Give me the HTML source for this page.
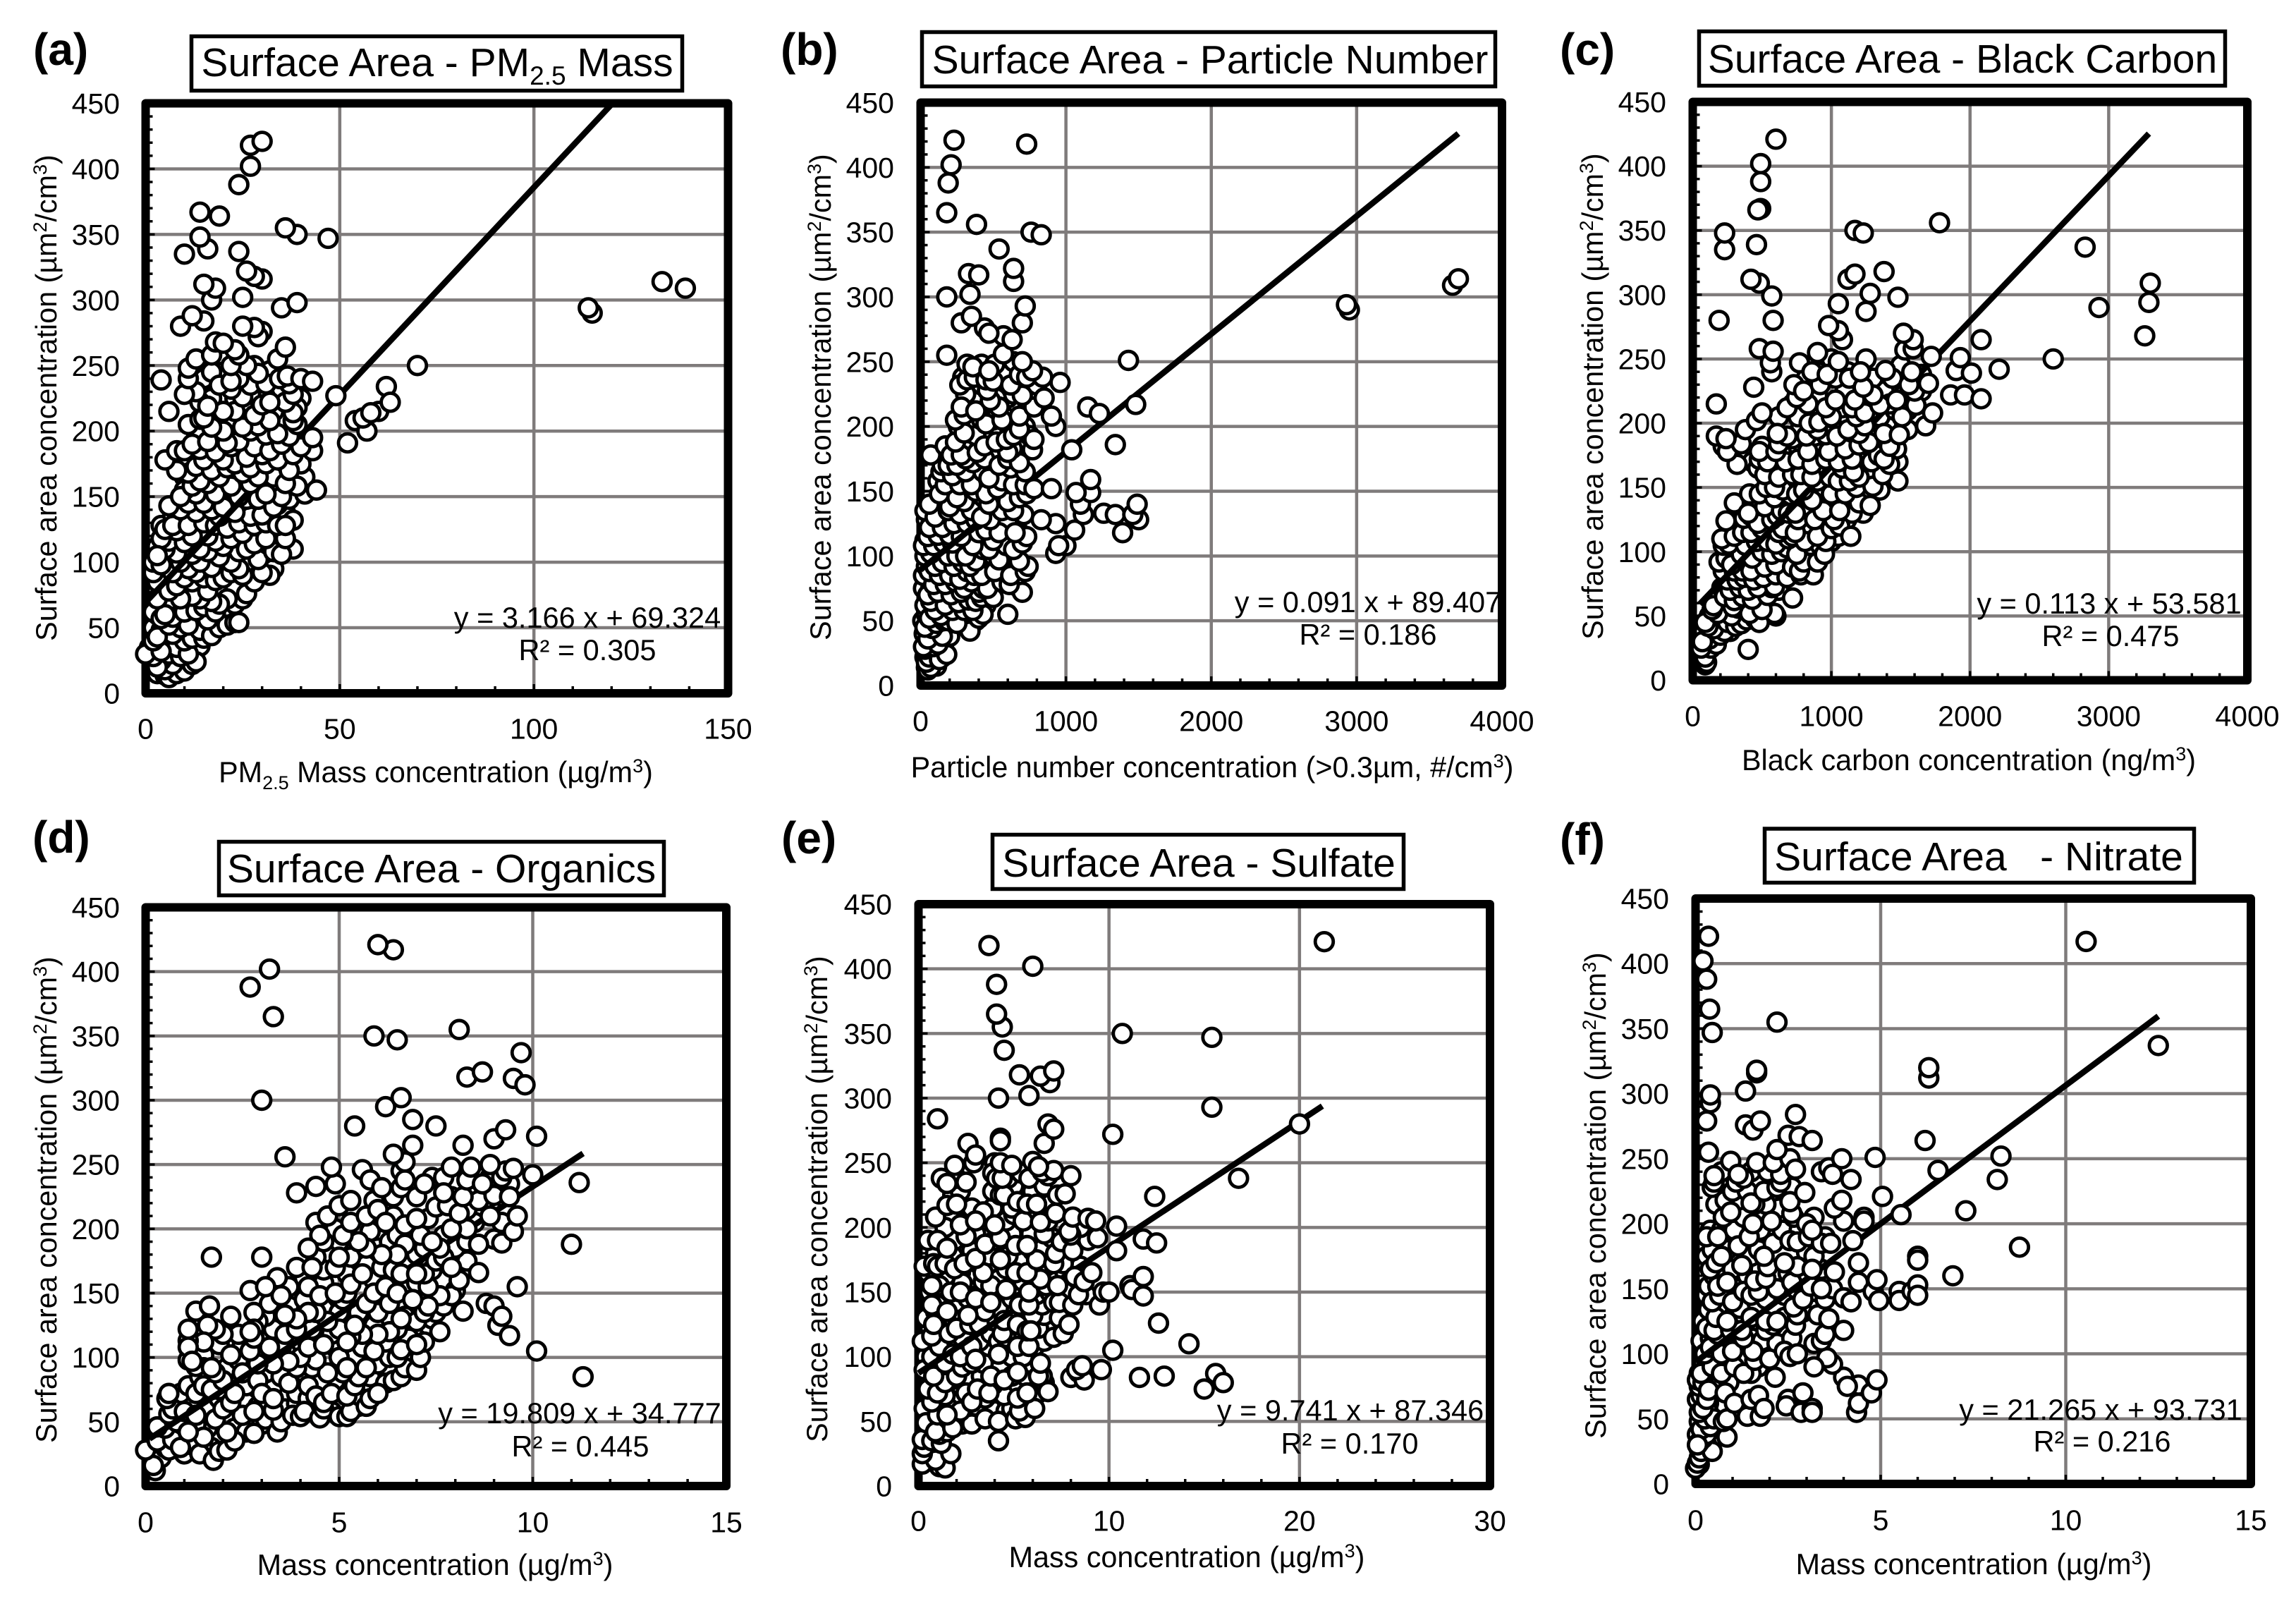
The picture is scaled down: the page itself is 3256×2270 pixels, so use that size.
<!DOCTYPE html>
<html>
<head>
<meta charset="utf-8">
<title>Surface area correlations</title>
<style>
html,body{margin:0;padding:0;background:#fff;}
svg{display:block;}
text{font-family:"Liberation Sans",Arial,sans-serif;fill:#000;}
.tt{font-size:57px;}
.ax{font-size:41.3px;}
.eq{font-size:41.5px;text-anchor:middle;}
.pl{font-size:64px;font-weight:bold;}
.box{fill:#fff;stroke:#000;stroke-width:5.5;}
</style>
</head>
<body>
<svg id="figure" xmlns="http://www.w3.org/2000/svg" width="3256" height="2270" viewBox="0 0 3256 2270">
<rect width="3256" height="2270" fill="#fff"/>

<g id="panel-a">
<text class="pl" x="47" y="92">(a)</text>
<rect class="box" x="271.5" y="51.5" width="696" height="77"/>
<text class="tt" x="620" y="108" text-anchor="middle">Surface Area - PM<tspan dy="12" font-size="37">2.5</tspan><tspan dy="-12"> Mass</tspan></text>
<text class="ax" x="80" y="564" text-anchor="middle" transform="rotate(-90 80 564)">Surface area concentration (µm<tspan dy="-14" font-size="27">2</tspan><tspan dy="14">/cm</tspan><tspan dy="-14" font-size="27">3</tspan><tspan dy="14">)</tspan></text>
<text class="ax" x="618" y="1109" text-anchor="middle">PM<tspan dy="10" font-size="27">2.5</tspan><tspan dy="-10"> Mass concentration (µg/m</tspan><tspan dy="-14" font-size="27">3</tspan><tspan dy="14">)</tspan></text>
<g id="marks-a"></g>
<text class="eq" x="833" y="890">y = 3.166 x + 69.324</text>
<text class="eq" x="833" y="936">R² = 0.305</text>
</g>

<g id="panel-b">
<text class="pl" x="1107" y="92">(b)</text>
<rect class="box" x="1307.5" y="45.5" width="813" height="77"/>
<text class="tt" x="1716" y="104" text-anchor="middle">Surface Area - Particle Number</text>
<text class="ax" x="1178" y="563" text-anchor="middle" transform="rotate(-90 1178 563)">Surface area concentration (µm<tspan dy="-14" font-size="27">2</tspan><tspan dy="14">/cm</tspan><tspan dy="-14" font-size="27">3</tspan><tspan dy="14">)</tspan></text>
<text class="ax" x="1719" y="1102" text-anchor="middle">Particle number concentration (&gt;0.3µm, #/cm<tspan dy="-14" font-size="27">3</tspan><tspan dy="14">)</tspan></text>
<g id="marks-b"></g>
<text class="eq" x="1940" y="868">y = 0.091 x + 89.407</text>
<text class="eq" x="1940" y="914">R² = 0.186</text>
</g>

<g id="panel-c">
<text class="pl" x="2212" y="92">(c)</text>
<rect class="box" x="2409.5" y="44.5" width="746" height="77"/>
<text class="tt" x="2783" y="103" text-anchor="middle">Surface Area - Black Carbon</text>
<text class="ax" x="2273" y="562" text-anchor="middle" transform="rotate(-90 2273 562)">Surface area concentration (µm<tspan dy="-14" font-size="27">2</tspan><tspan dy="14">/cm</tspan><tspan dy="-14" font-size="27">3</tspan><tspan dy="14">)</tspan></text>
<text class="ax" x="2792" y="1092" text-anchor="middle">Black carbon concentration (ng/m<tspan dy="-14" font-size="27">3</tspan><tspan dy="14">)</tspan></text>
<g id="marks-c"></g>
<text class="eq" x="2991" y="870">y = 0.113 x + 53.581</text>
<text class="eq" x="2993" y="916">R² = 0.475</text>
</g>

<g id="panel-d">
<text class="pl" x="46" y="1209">(d)</text>
<rect class="box" x="310.5" y="1193.5" width="631" height="76"/>
<text class="tt" x="626" y="1251" text-anchor="middle">Surface Area - Organics</text>
<text class="ax" x="80" y="1701" text-anchor="middle" transform="rotate(-90 80 1701)">Surface area concentration (µm<tspan dy="-14" font-size="27">2</tspan><tspan dy="14">/cm</tspan><tspan dy="-14" font-size="27">3</tspan><tspan dy="14">)</tspan></text>
<text class="ax" x="617" y="2233" text-anchor="middle">Mass concentration (µg/m<tspan dy="-14" font-size="27">3</tspan><tspan dy="14">)</tspan></text>
<g id="marks-d"></g>
<text class="eq" x="822" y="2018">y = 19.809 x + 34.777</text>
<text class="eq" x="823" y="2065">R² = 0.445</text>
</g>

<g id="panel-e">
<text class="pl" x="1108" y="1210">(e)</text>
<rect class="box" x="1407.5" y="1183.5" width="583" height="77"/>
<text class="tt" x="1700" y="1243" text-anchor="middle">Surface Area - Sulfate</text>
<text class="ax" x="1173" y="1700" text-anchor="middle" transform="rotate(-90 1173 1700)">Surface area concentration (µm<tspan dy="-14" font-size="27">2</tspan><tspan dy="14">/cm</tspan><tspan dy="-14" font-size="27">3</tspan><tspan dy="14">)</tspan></text>
<text class="ax" x="1683" y="2222" text-anchor="middle">Mass concentration (µg/m<tspan dy="-14" font-size="27">3</tspan><tspan dy="14">)</tspan></text>
<g id="marks-e"></g>
<text class="eq" x="1915" y="2014">y = 9.741 x + 87.346</text>
<text class="eq" x="1914" y="2061">R² = 0.170</text>
</g>

<g id="panel-f">
<text class="pl" x="2212" y="1212">(f)</text>
<rect class="box" x="2502.5" y="1175" width="609" height="76.5"/>
<text class="tt" x="2806" y="1234" text-anchor="middle" xml:space="preserve" style="white-space:pre">Surface Area   - Nitrate</text>
<text class="ax" x="2277" y="1695" text-anchor="middle" transform="rotate(-90 2277 1695)">Surface area concentration (µm<tspan dy="-14" font-size="27">2</tspan><tspan dy="14">/cm</tspan><tspan dy="-14" font-size="27">3</tspan><tspan dy="14">)</tspan></text>
<text class="ax" x="2799" y="2232" text-anchor="middle">Mass concentration (µg/m<tspan dy="-14" font-size="27">3</tspan><tspan dy="14">)</tspan></text>
<g id="marks-f"></g>
<text class="eq" x="2979" y="2013">y = 21.265 x + 93.731</text>
<text class="eq" x="2981" y="2058">R² = 0.216</text>
</g>
</svg>

<script>
const yTickLabels = [0,50,100,150,200,250,300,350,400,450];
const xTicksA = [0,50,100,150];
const xTicksB = [0,1000,2000,3000,4000];
const xTicksC = [0,1000,2000,3000,4000];
const xTicksD = [0,5,10,15];
const xTicksE = [0,10,20,30];
const xTicksF = [0,5,10,15];

const fitA = {slope:3.166, intercept:69.324, from:0, to:120};
const fitB = {slope:0.091, intercept:89.407, from:0, to:3700};
const fitC = {slope:0.113, intercept:53.581, from:50, to:3290};
const fitD = {slope:19.809, intercept:34.777, from:0.1, to:11.3};
const fitE = {slope:9.741, intercept:87.346, from:0, to:21.2};
const fitF = {slope:21.265, intercept:93.731, from:0, to:12.5};

const pointsA = [[3,15],[5,14],[7,16],[9,20],[11,24],[5,23],[8,25],[3,33],[5,38],[7,38],[9,36],[12,34],[14,36],[1,35],[2,50],[4,48],[6,46],[8,54],[12,50],[14,54],[16,50],[18,54],[20,58],[22,62],[11,60],[8,65],[6,68],[3,60],[2,62],[18,72],[23,68],[25,72],[20,78],[23,82],[27,92],[31,100],[33,95],[32,90],[28,96],[26,100],[21,96],[18,100],[13,84],[9,80],[5,88],[3,85],[2,92],[2,100],[6,98],[8,112],[10,102],[11,108],[13,115],[15,100],[16,102],[21,106],[23,112],[30,108],[32,112],[34,118],[38,110],[35,120],[33,125],[30,124],[27,122],[20,122],[14,125],[10,122],[6,122],[4,128],[3,112],[9,132],[13,132],[17,134],[21,136],[25,136],[29,140],[32,136],[36,138],[34,144],[28,142],[22,144],[18,146],[14,150],[7,136],[8,145],[11,152],[15,154],[20,156],[23,154],[26,154],[30,156],[33,158],[38,160],[41,165],[37,162],[35,168],[31,168],[28,165],[24,162],[21,164],[18,170],[16,174],[12,176],[9,178],[10,165],[24,172],[28,178],[32,178],[36,176],[40,175],[36,184],[33,192],[29,192],[26,195],[23,196],[19,195],[15,197],[13,200],[30,200],[35,205],[36,210],[33,215],[29,215],[26,215],[22,207],[18,210],[17,225],[23,225],[27,228],[34,228],[40,225],[35,232],[25,245],[32,246],[28,250],[20,245],[15,240],[17,245],[14,222],[6,12],[8,15],[5,18],[10,17],[7,22],[4,25],[3,20],[12,22],[13,24],[6,30],[9,28],[8,35],[11,30],[2,28],[0,30],[4,32],[2,40],[10,40],[12,42],[15,42],[7,45],[3,43],[14,48],[17,44],[9,50],[19,50],[6,52],[11,52],[21,52],[23,54],[24,54],[16,56],[4,57],[7,58],[5,60],[10,62],[13,63],[15,66],[18,62],[21,72],[19,68],[17,70],[14,72],[12,74],[9,72],[3,72],[6,78],[16,78],[8,82],[12,85],[10,88],[15,88],[18,86],[20,88],[22,92],[13,92],[26,76],[28,85],[30,92],[25,90],[24,95],[17,96],[11,95],[7,92],[4,98],[9,100],[14,100],[22,100],[29,102],[19,104],[16,108],[12,106],[8,107],[5,110],[33,108],[35,106],[24,108],[20,112],[18,116],[14,110],[6,116],[4,118],[10,115],[3,105],[26,110],[28,114],[31,118],[36,118],[22,118],[25,122],[16,120],[12,120],[8,124],[5,125],[7,128],[11,128],[15,130],[18,128],[21,126],[24,130],[28,128],[31,130],[34,128],[38,132],[36,128],[19,135],[13,138],[27,135],[30,136],[23,138],[17,140],[9,140],[6,143],[11,145],[15,145],[20,142],[26,148],[29,148],[33,142],[37,148],[41,152],[44,155],[35,150],[31,152],[24,150],[18,152],[13,152],[10,155],[9,150],[12,158],[16,160],[22,158],[27,160],[33,165],[39,158],[36,160],[29,165],[25,168],[19,165],[14,162],[11,168],[8,170],[13,173],[17,170],[21,172],[23,175],[27,172],[31,175],[37,170],[34,178],[30,182],[26,180],[20,178],[15,178],[5,178],[8,185],[10,185],[14,186],[18,184],[22,188],[28,188],[32,185],[38,182],[43,185],[40,188],[35,190],[24,192],[21,191],[12,190],[16,192],[27,200],[31,197],[43,195],[37,196],[34,198],[20,200],[17,203],[11,205],[14,209],[29,204],[25,203],[39,205],[32,208],[38,208],[15,210],[28,212],[23,215],[20,215],[6,215],[39,218],[38,214],[16,219],[30,220],[36,222],[32,222],[25,226],[49,227],[38,228],[13,230],[10,228],[22,232],[19,235],[27,235],[31,236],[37,236],[4,239],[11,240],[24,240],[29,244],[34.5,240],[36.5,242],[40,240],[43,238],[22,238],[11,248],[26,250],[22,250],[34,255],[13,255],[17,258],[24,258],[23,262],[36,264],[18,268],[20,267],[30,276],[29,272],[28,279],[25,280],[9,280],[15,284],[12,288],[35,294],[39,298],[25,302],[17,300],[18,309],[15,312],[30,316],[28,318],[26,322],[24,337],[10,335],[16,339],[14,348],[47,347],[39,350],[36,355],[19,364],[14,367],[24,388],[27,402],[27,418],[30,421],[52,191],[54,208],[57,200],[56,210],[60,215],[58,214],[62,234],[63,222],[70,250],[115,290],[114,294],[133,314],[139,309]];

const pointsB = [[40,14],[30,22],[80,18],[110,15],[150,22],[100,25],[60,30],[140,30],[170,35],[40,40],[80,38],[15,50],[40,55],[75,52],[120,42],[170,45],[220,45],[270,52],[320,55],[290,48],[380,50],[450,62],[30,62],[100,65],[140,68],[200,62],[230,68],[300,68],[20,75],[70,75],[130,78],[190,75],[260,76],[330,76],[390,78],[500,78],[540,85],[580,90],[650,88],[690,88],[20,85],[100,85],[160,88],[240,88],[300,85],[400,88],[450,90],[490,95],[40,92],[80,92],[190,90],[270,92],[320,96],[410,98],[500,100],[560,100],[610,98],[660,96],[50,100],[130,100],[220,100],[290,105],[340,108],[400,108],[460,112],[560,112],[620,112],[680,118],[30,112],[110,110],[180,112],[250,112],[310,112],[370,115],[430,118],[520,125],[570,128],[620,130],[80,122],[180,122],[270,122],[350,122],[420,122],[500,135],[450,138],[40,128],[120,125],[220,132],[310,132],[390,135],[540,142],[600,132],[680,130],[100,140],[170,142],[250,138],[340,145],[420,145],[510,145],[650,150],[220,150],[300,152],[400,158],[470,152],[590,152],[690,155],[120,158],[190,158],[360,162],[520,175],[570,168],[650,162],[260,178],[330,182],[400,170],[490,178],[660,180],[700,185],[200,175],[290,188],[340,195],[480,195],[550,195],[610,200],[720,190],[260,200],[360,200],[500,205],[640,205],[720,200],[340,215],[410,218],[600,215],[660,218],[740,215],[390,225],[560,228],[600,222],[640,225],[310,225],[290,238],[420,232],[520,240],[580,240],[760,228],[800,232],[420,248],[510,248],[640,250],[50,12],[70,14],[40,18],[60,22],[130,20],[180,24],[30,28],[40,32],[90,30],[20,30],[120,32],[200,38],[25,40],[50,36],[150,38],[340,42],[80,44],[30,45],[110,48],[160,50],[190,50],[250,48],[60,52],[140,54],[400,52],[430,55],[600,55],[100,58],[220,58],[300,58],[360,58],[70,65],[170,62],[260,64],[330,66],[380,65],[420,68],[500,68],[50,70],[120,72],[210,70],[280,72],[400,72],[430,75],[660,77],[700,72],[90,78],[170,78],[240,80],[300,75],[350,80],[460,75],[560,80],[610,78],[60,88],[130,85],[200,85],[270,82],[320,88],[370,85],[420,85],[510,88],[620,85],[720,88],[740,92],[100,92],[150,95],[230,92],[290,95],[340,92],[380,96],[540,97],[680,96],[30,100],[70,102],[190,100],[250,100],[310,100],[430,105],[470,105],[590,108],[640,105],[930,102],[1000,108],[950,108],[20,108],[90,108],[160,110],[220,110],[360,108],[500,112],[700,110],[730,115],[50,115],[120,116],[200,116],[280,115],[400,118],[450,120],[600,125],[540,118],[650,118],[1060,120],[1390,118],[60,122],[150,122],[230,125],[320,125],[380,128],[480,128],[930,125],[830,128],[1500,128],[710,132],[1120,132],[1260,133],[1340,132],[1460,132],[30,135],[100,130],[190,135],[270,132],[350,135],[420,130],[560,135],[640,135],[60,140],[200,138],[300,142],[470,140],[600,142],[1100,140],[1490,140],[130,148],[250,145],[380,150],[450,148],[530,152],[680,145],[730,148],[1170,149],[1070,149],[170,155],[270,155],[350,155],[500,162],[560,158],[640,155],[720,155],[780,152],[900,152],[1170,159],[140,165],[220,162],[310,165],[430,165],[470,160],[620,168],[720,165],[150,170],[190,170],[250,170],[360,172],[440,175],[540,170],[600,175],[310,175],[680,172],[70,178],[170,185],[210,178],[280,178],[390,180],[630,183],[770,182],[1040,182],[600,180],[240,188],[380,193],[440,185],[520,188],[590,190],[640,193],[750,193],[780,190],[1340,186],[300,195],[680,198],[240,205],[420,205],[450,202],[300,209],[560,205],[680,208],[930,200],[900,208],[280,215],[380,212],[520,222],[540,215],[780,215],[1150,215],[1230,210],[480,220],[460,228],[700,224],[850,222],[1480,217],[270,232],[320,236],[370,238],[450,236],[500,235],[620,232],[680,240],[730,238],[840,238],[960,234],[320,248],[360,246],[470,243],[770,243],[700,250],[1430,251],[180,255],[570,256],[570,270],[630,267],[440,276],[470,272],[280,280],[700,280],[350,285],[720,293],[180,300],[340,302],[330,318],[400,317],[640,312],[640,322],[540,337],[760,350],[830,348],[385,356],[180,365],[190,388],[210,402],[730,418],[230,421],[2950,290],[2930,294],[3660,309],[3700,314]];

const pointsC = [[80,20],[110,26],[140,32],[180,38],[270,38],[210,45],[170,45],[120,50],[260,55],[370,50],[440,55],[470,58],[520,62],[320,65],[210,72],[260,62],[390,60],[480,65],[550,76],[620,70],[300,75],[420,72],[500,90],[460,90],[390,90],[330,92],[550,92],[650,90],[700,92],[750,85],[830,90],[880,100],[260,98],[310,100],[400,105],[470,100],[620,112],[680,118],[780,100],[850,105],[920,105],[1000,108],[340,110],[400,122],[520,122],[560,115],[800,118],[850,115],[960,120],[1050,112],[1110,125],[350,125],[440,135],[480,130],[620,135],[720,122],[780,130],[830,132],[900,138],[980,130],[1120,138],[1230,130],[560,142],[680,140],[720,148],[850,150],[920,145],[1040,142],[1160,142],[1250,145],[1350,148],[560,158],[680,155],[760,155],[950,150],[1090,150],[1260,155],[1320,165],[1430,160],[430,170],[600,165],[820,170],[900,172],[1010,165],[1210,170],[1260,162],[1480,170],[540,180],[660,180],[760,182],[880,182],[1030,180],[1160,185],[1320,185],[1470,180],[720,188],[880,190],[1000,192],[1100,190],[1300,195],[1400,200],[1550,195],[780,198],[960,200],[1060,200],[1120,205],[1300,205],[1550,210],[620,205],[720,215],[880,212],[1080,212],[1220,215],[1350,205],[1480,225],[900,222],[1100,225],[1380,225],[1520,222],[1650,225],[820,235],[900,240],[1120,240],[1300,235],[1480,240],[1650,238],[1000,250],[1250,250],[1500,245],[90,12],[100,14],[90,18],[130,25],[170,28],[400,24],[60,25],[120,32],[200,35],[70,30],[230,38],[150,40],[110,42],[250,45],[90,45],[310,42],[350,44],[390,47],[450,48],[480,45],[600,50],[590,52],[280,50],[180,52],[140,55],[330,56],[410,52],[500,55],[150,58],[290,57],[230,65],[300,62],[360,65],[430,63],[540,66],[570,72],[720,64],[270,70],[340,72],[400,70],[470,72],[590,73],[250,78],[320,78],[370,80],[440,78],[510,80],[600,82],[680,80],[780,82],[870,82],[220,85],[300,85],[360,85],[420,85],[520,88],[600,90],[720,88],[770,85],[800,92],[900,92],[190,92],[240,95],[280,90],[350,98],[430,95],[500,100],[570,98],[640,100],[680,103],[750,98],[950,98],[220,105],[260,106],[380,105],[460,108],[540,108],[600,106],[690,110],[720,112],[810,108],[960,108],[210,110],[300,112],[360,115],[420,115],[500,118],[620,115],[650,118],[740,115],[900,112],[1000,118],[1060,120],[1140,112],[240,124],[370,126],[420,128],[470,122],[570,125],[610,128],[760,125],[880,125],[1020,125],[1080,132],[1150,130],[300,138],[400,130],[520,135],[640,132],[690,130],[740,130],[940,132],[1060,132],[1200,138],[1280,136],[410,145],[480,145],[590,142],[650,148],[750,145],[860,140],[1000,145],[1100,145],[1180,150],[1300,151],[1480,155],[530,150],[590,150],[800,148],[900,155],[990,158],[1050,155],[1130,155],[1200,158],[1370,160],[470,165],[520,160],[620,158],[720,160],[780,160],[860,158],[1080,165],[1160,162],[1420,168],[320,168],[480,172],[540,170],[670,170],[760,172],[860,168],[960,172],[1050,170],[1150,172],[1290,170],[1340,175],[1380,172],[500,182],[480,178],[600,178],[830,178],[980,178],[1100,180],[1200,183],[1270,185],[1420,182],[220,182],[250,178],[350,184],[620,184],[680,190],[820,190],[960,191],[1040,190],[1200,192],[1380,192],[1490,191],[170,190],[240,188],[380,195],[610,192],[900,195],[1120,195],[1240,198],[1680,198],[460,202],[500,208],[760,205],[840,200],[910,201],[1000,205],[1180,205],[1460,210],[1730,208],[680,212],[830,215],[960,212],[1150,212],[1240,208],[1420,215],[1610,214],[170,215],[1350,214],[1510,205],[750,220],[1030,218],[1170,218],[1300,222],[1470,218],[1600,225],[1860,222],[1960,222],[2080,219],[440,228],[730,230],[800,225],[920,230],[1030,235],[1130,235],[1440,235],[1560,230],[1700,231],[1230,228],[570,240],[560,247],[770,247],[860,240],[970,238],[1050,248],[1210,240],[1390,241],[1580,240],[1900,241],[2010,239],[2210,242],[480,258],[580,256],[900,255],[1530,257],[1590,258],[1720,252],[1930,251],[2600,250],[1590,265],[1520,270],[1080,265],[1050,272],[2080,265],[980,276],[3260,268],[190,280],[580,280],[1250,287],[1050,293],[2930,290],[3290,294],[570,299],[1480,298],[1280,301],[480,309],[420,312],[1120,312],[1170,316],[1380,318],[3300,309],[230,335],[460,339],[2830,337],[230,348],[1170,350],[1230,348],[1780,356],[490,367],[470,366],[490,388],[490,402],[600,421]];

const pointsD = [[0.4,22],[0.5,30],[1.0,25],[1.2,32],[1.7,30],[1.6,45],[2.3,45],[2.6,42],[3.0,48],[1,45],[0.7,48],[0.9,62],[1.2,65],[1.6,62],[1.9,68],[2.6,65],[2.9,62],[3.6,60],[3.1,52],[3.9,64],[4.3,62],[4.8,58],[5.5,62],[5.4,68],[5.9,75],[0.9,72],[1.1,78],[1.9,75],[2.6,78],[3.3,78],[3.9,72],[4.2,68],[4.9,82],[5.8,80],[6.3,90],[1.4,85],[2.1,92],[2.7,95],[3.1,88],[4.1,88],[4.5,80],[5.8,85],[6,95],[6.8,98],[2.4,98],[3.5,100],[4.3,92],[5.4,100],[6.3,100],[6.9,102],[1.5,102],[2.5,110],[3,115],[3.5,108],[4,112],[4.9,108],[5.6,108],[6.2,112],[6.8,115],[1.9,110],[2.4,118],[3.3,122],[4.3,122],[4.8,118],[5.9,125],[6.5,122],[7.3,125],[7.4,130],[3.1,132],[3.7,140],[4.1,145],[4.6,138],[5,135],[5.5,135],[6,135],[6.3,142],[6.9,135],[7.5,135],[3.7,155],[4.6,158],[5.1,145],[5.2,150],[5.9,160],[6.7,155],[7,158],[7.7,160],[8,152],[4.1,162],[4.6,168],[5.2,165],[5.7,172],[6.1,170],[6.8,172],[7.4,168],[8.3,175],[4.4,178],[5.3,178],[6,185],[6.3,190],[7,180],[7.2,185],[8,185],[8.3,190],[9,192],[5,190],[5.8,198],[6.5,195],[7.1,195],[7.7,195],[8.5,205],[9.2,205],[4.4,205],[4.9,200],[6.4,210],[7.3,208],[8.3,215],[8.9,218],[5.9,222],[6.4,225],[7,225],[7.9,225],[8.5,230],[9.4,235],[7.4,240],[7.7,240],[6.6,245],[8.9,240],[0.25,12],[0.2,16],[0,28],[0.6,28],[0.3,35],[0.7,36],[0.9,30],[1.4,25],[1.75,20],[1.9,27],[2.1,28],[2.3,35],[2.1,42],[0.5,45],[0.3,46],[0.8,50],[1.3,48],[1.8,52],[1.5,38],[1.1,42],[2.8,41],[3.4,42],[3.5,50],[2.5,55],[2.8,58],[3.3,59],[3.8,55],[4.0,54],[4.1,58],[4.5,53],[4.6,60],[5.0,54],[5.2,54],[5.3,58],[5.7,62],[5.8,68],[0.6,56],[0.7,60],[0.55,68],[0.6,72],[1,58],[1.3,55],[1.3,72],[1.5,78],[1.7,75],[2.0,60],[2.2,65],[2.3,72],[2,82],[1.8,88],[1.5,92],[1.3,93],[1.1,98],[1.7,92],[2.5,88],[2.9,82],[3,72],[3.3,68],[3.5,85],[3.7,80],[3.9,92],[4.2,78],[4.4,70],[4.6,65],[4.8,72],[5.2,70],[5.4,78],[5.5,85],[5.1,88],[4.7,88],[4.4,98],[4.0,100],[3.7,97],[3.3,95],[2.9,95],[2.7,105],[3.2,108],[3.6,118],[3.9,122],[4.2,108],[4.6,110],[5,100],[5.2,92],[5.7,92],[5.9,105],[6.2,80],[6.4,82],[6.6,85],[6.0,72],[6.7,92],[6.5,100],[7,90],[7.1,100],[6.6,106],[6.3,120],[6,118],[5.6,118],[5.3,116],[5,122],[5.4,125],[5.2,112],[4.7,128],[4.4,135],[4.2,135],[3.9,130],[3.6,133],[3.2,142],[2.9,128],[2.8,135],[2.8,122],[2.8,115],[2.7,120],[2.2,132],[2,118],[1.8,122],[1.6,125],[1.5,112],[1.1,113],[1.1,122],[1.3,136],[1.65,140],[1.1,108],[1.2,97],[2.2,102],[2.7,152],[3.5,148],[3.4,162],[3.1,155],[3.9,170],[4.3,170],[4.2,155],[4.5,148],[4.9,150],[4.9,170],[5.0,178],[5.3,157],[5.6,165],[5.7,142],[5.9,150],[6.2,155],[6.4,168],[6.6,165],[6.5,150],[6.7,132],[7,128],[7.2,135],[7.2,112],[7,110],[7.6,120],[7.7,140],[7.9,148],[8.2,136],[8.1,160],[7.6,148],[7.3,140],[7.3,155],[7.2,165],[7.5,175],[7.7,178],[7.9,170],[6.9,145],[7,165],[6.6,130],[8.6,166],[8.8,142],[9,140],[9.1,125],[9.4,117],[9.2,132],[9.6,155],[10.1,105],[11.3,85],[11,188],[11.2,236],[9.2,189],[9.5,198],[9.6,210],[8.6,188],[8.3,200],[8.9,210],[7.9,200],[7.6,185],[7.4,190],[6.7,188],[6.5,180],[6.1,180],[5.7,185],[5.5,190],[5.1,195],[4.6,190],[4.5,195],[4.2,185],[5.3,205],[5.7,210],[6,215],[6.2,205],[6.7,203],[7,208],[7.5,217],[7.8,218],[8.1,212],[8.6,222],[9,226],[9.4,225],[4.7,210],[5,218],[5.3,222],[4.4,233],[4.9,235],[4.8,248],[5.6,246],[5.8,238],[6.1,232],[6.6,232],[6.7,238],[7.2,235],[7.7,228],[8.2,225],[8.3,238],[8.7,235],[9.2,240],[9.3,245],[9.5,247],[10,242],[8.4,248],[7.9,248],[8.9,250],[6.7,252],[6.4,258],[8.2,265],[6.9,265],[9,270],[9.3,277],[10.1,272],[3.9,228],[3.6,256],[5.4,280],[6.9,285],[7.5,280],[6.2,295],[6.6,302],[3,300],[1.7,178],[3,178],[8.3,318],[8.7,322],[9.5,317],[9.8,312],[9.7,337],[8.1,355],[6.5,347],[5.9,350],[3.3,365],[2.7,388],[3.2,402],[6.4,417],[6,421]];

const pointsE = [[0.5,20],[0.6,28],[1,27],[0.4,40],[0.8,32],[1.4,50],[1.9,52],[2.3,48],[2.5,55],[3.2,58],[3.8,60],[4.6,58],[4.9,60],[5.5,62],[0.3,60],[0.9,78],[1.2,62],[1.9,68],[2.2,78],[3,62],[3.5,68],[4,72],[4.5,70],[5.9,78],[6.3,72],[6.6,80],[0.5,85],[1.2,88],[1.7,82],[2.5,85],[3.3,85],[3.9,78],[4.3,92],[4.9,85],[5.6,85],[5.9,95],[0.4,100],[1,95],[1.4,105],[2.5,100],[3.4,95],[3.7,108],[4.9,100],[5.5,100],[6.1,108],[6.6,112],[1,115],[1.4,112],[1.9,115],[2.5,120],[3.2,112],[3.8,118],[4.2,112],[4.9,120],[5.5,115],[6.3,122],[6.6,132],[1.2,125],[1.8,130],[2.2,135],[3,132],[3.9,128],[5,135],[6,132],[6.5,140],[7.4,130],[0.4,130],[0.9,135],[1.3,145],[2,142],[2.6,145],[3.4,148],[4.2,138],[4.9,145],[6.2,148],[6.9,150],[7.7,150],[8.8,148],[1.9,158],[2.7,160],[3.4,158],[4.2,160],[5,155],[5.5,158],[6,162],[7.7,165],[8.5,170],[0.5,165],[1.4,162],[2.2,165],[3.7,172],[4.6,168],[5.4,175],[6.7,170],[7.6,172],[0.9,180],[1.8,178],[2.8,182],[3.7,178],[4.7,178],[6,182],[6.6,185],[7,192],[1.9,190],[3,195],[4,190],[4.9,195],[5.9,195],[6.6,195],[8.9,190],[1.4,200],[2.6,205],[4.6,205],[5,210],[6,208],[6.8,205],[8.5,200],[2.8,215],[3.9,215],[4.9,215],[6.9,218],[1.8,225],[2.2,228],[3.9,228],[5,232],[6,228],[6.6,232],[7.4,235],[2,238],[4.7,238],[5.4,242],[6.8,240],[4,250],[0.2,17],[1.1,15],[1.4,14],[0.9,20],[0.2,25],[1.7,25],[0.3,30],[0.2,36],[0.7,35],[1.2,33],[1.1,40],[1.5,42],[0.4,49],[4.2,35],[0.9,42],[1.8,45],[2.8,48],[3.5,52],[4.2,50],[5.1,52],[5.6,53],[5.3,58],[6.1,60],[1.0,55],[1.6,60],[2.2,58],[0.7,65],[1.4,70],[1.5,55],[2.5,72],[2.8,65],[3.1,75],[3.7,72],[5.2,68],[5.7,72],[6.5,85],[6.8,73],[0.5,75],[1,72],[1.4,80],[2,85],[2.3,92],[2.8,95],[3.8,85],[4.5,82],[5.2,88],[6.3,85],[6.4,95],[8,84],[8.4,88],[8.7,82],[8.3,90],[8.6,93],[9.6,90],[10.2,105],[11.6,84],[12.9,85],[15,75],[15.6,87],[16,80],[14.2,110],[12.6,126],[0.3,90],[0.7,100],[1.1,108],[0.8,85],[1.4,95],[1.8,102],[2.2,100],[2.3,115],[2.8,108],[3,98],[4.2,102],[4.6,115],[5.2,108],[5.8,108],[0.2,112],[0.7,116],[0.8,125],[1.6,118],[2.0,122],[2.7,125],[3.2,125],[3.5,135],[2.6,132],[4.4,118],[4.5,128],[5.2,125],[5.7,120],[5.9,120],[7.1,115],[7.6,118],[7.9,125],[1,140],[0.6,150],[0.7,140],[1.5,135],[1.1,155],[0.7,155],[1.7,150],[2.3,157],[2.2,150],[3,145],[3.8,155],[3.8,142],[4.6,152],[5.3,140],[5.8,140],[5.8,150],[7.1,142],[7.4,142],[8.1,140],[8.4,148],[9.5,140],[9.7,150],[10,150],[11.1,155],[11.2,152],[11.8,147],[11.8,162],[6.7,155],[6.4,160],[7.3,155],[8.2,162],[8.7,158],[9.1,165],[0.3,170],[0.8,172],[1,170],[1.4,172],[1.9,168],[3.4,165],[2.4,172],[3,176],[4.3,175],[5.1,165],[5.7,165],[6.2,175],[7.1,172],[7.2,180],[0.5,190],[1,190],[1.5,184],[2.5,193],[3.5,187],[4.3,192],[5.1,186],[5.7,186],[7.5,189],[8.1,182],[8,194],[9.4,192],[10.4,182],[11.8,191],[12.5,188],[0.9,208],[2.2,202],[3.4,212],[4,202],[3,205],[5.5,205],[6.4,204],[7.2,211],[7.9,197],[8.1,208],[8.9,207],[9.3,205],[10.4,201],[1.5,217],[2,218],[4.3,225],[4.5,225],[5.2,220],[5.7,218],[6.2,218],[7.3,225],[7.7,226],[12.4,224],[1.2,238],[1.5,234],[2.5,235],[3.9,242],[4.1,238],[4.4,238],[5.8,238],[6.5,243],[7.1,244],[8,240],[16.8,238],[1.9,248],[2.9,250],[4.3,250],[4.9,248],[6,251],[6.3,247],[2.6,265],[3,256],[4.3,269],[4.3,267],[6.6,265],[6.8,280],[7.1,276],[10.2,272],[20,280],[1,284],[4.2,300],[5.8,302],[15.4,293],[6.9,312],[5.3,318],[6.4,317],[7.1,321],[4.5,337],[4.4,355],[4.1,365],[10.7,350],[15.4,347],[4.1,388],[6,402],[3.7,418],[21.3,421]];

const pointsF = [[0.1,15],[0.2,25],[0.1,27],[0.3,30],[0.05,38],[0.25,42],[0.1,48],[0.3,48],[0.5,62],[0.7,58],[0.35,62],[0.05,65],[0.25,72],[0.4,80],[0.1,85],[0.3,92],[0.6,78],[0.9,78],[0.2,95],[0.5,100],[0.8,95],[1.2,98],[1.7,90],[1.5,85],[0.15,110],[0.4,112],[0.75,110],[1.1,108],[1.55,112],[1.8,110],[2.2,108],[2.6,112],[0.2,125],[0.45,125],[0.75,135],[1,128],[1.3,130],[1.7,125],[2.4,128],[2.9,132],[3.3,130],[0.3,145],[0.85,145],[1.15,150],[1.45,155],[1.9,142],[2.4,145],[2.7,150],[3.2,148],[3.5,142],[0.35,152],[0.5,160],[0.75,162],[1,165],[1.4,160],[1.75,165],[2.15,160],[2.5,162],[3.4,165],[0.3,175],[0.45,180],[0.85,180],[1.5,175],[1.7,180],[2.1,185],[3,178],[3.2,175],[0.4,195],[0.7,195],[1.05,195],[1.75,195],[2.35,195],[2.8,195],[3.5,190],[0.55,215],[0.8,218],[1.25,215],[1.75,210],[2.25,212],[2.65,205],[3.2,205],[1,225],[1.4,225],[1.9,215],[2.6,228],[0.7,240],[1.5,240],[1.95,240],[0,12],[0.05,16],[0.1,20],[0.15,25],[0.45,25],[0.1,32],[0.2,35],[0.3,38],[0.15,42],[0.05,30],[0.85,36],[0.4,44],[0.25,50],[0.35,55],[0.5,50],[0.75,48],[0.85,50],[0.1,55],[0.2,58],[0.15,68],[0.1,75],[0.05,80],[0.2,78],[0.15,85],[0.3,65],[0.35,72],[0.8,70],[1.05,62],[1.4,52],[1.5,65],[1.75,52],[1.7,68],[1.85,58],[2.5,65],[2.45,60],[2.85,55],[2.9,70],[3.15,58],[3.15,55],[4.35,55],[4.4,62],[4.4,76],[4.75,70],[4.9,80],[4,82],[4.1,75],[3.7,92],[3.55,97],[3.2,90],[2.15,82],[0.55,88],[0.45,90],[0.7,85],[1.05,90],[1.3,85],[1.6,95],[1.55,102],[2.0,96],[2.4,102],[2.55,98],[2.75,100],[0.25,100],[0.4,105],[0.7,100],[1,102],[1.3,112],[0.6,115],[0.3,120],[0.5,118],[0.95,118],[1.25,118],[1.9,118],[2.1,122],[2.7,122],[3.2,108],[3.4,110],[3.5,115],[3.6,127],[4,118],[0.35,134],[0.55,128],[0.85,125],[1.2,135],[1.5,128],[1.9,125],[2.2,125],[2.75,130],[2.65,136],[0.45,140],[0.65,145],[1,140],[1.3,148],[1.5,145],[1.7,148],[2.2,150],[2.9,142],[3.1,152],[3.7,150],[4,143],[4.2,140],[4.4,155],[0.6,152],[0.85,155],[1.6,156],[1.9,158],[2.6,155],[3.4,150],[4.8,148],[4.9,157],[4.95,141],[5.5,148],[5.5,141],[5.85,148],[6,153],[6,145],[3.75,163],[2.75,167],[3.15,165],[1.95,167],[4.4,170],[6,175],[6,172],[6.95,160],[0.4,165],[0.55,170],[0.7,175],[1.25,168],[1.85,175],[2.4,170],[0.3,190],[0.6,190],[1.15,183],[1.45,190],[2.55,187],[2.75,186],[3.05,190],[3.4,185],[3.65,185],[4.25,187],[8.75,182],[1.3,205],[0.75,205],[0.95,209],[1.55,200],[2.05,202],[2.6,208],[3,200],[3.15,195],[4,202],[4.55,205],[4.55,202],[5.55,207],[7.3,210],[1.6,215],[1.5,216],[2.55,217],[2.95,224],[3.75,212],[3.95,218],[5.05,221],[1.85,225],[2.2,228],[2.3,232],[0.45,228],[0.5,232],[1.1,232],[1.3,235],[2.3,238],[3.4,240],[3.6,243],[3.7,238],[4.2,234],[6.55,241],[8.15,234],[0.5,237],[0.95,248],[1.15,238],[1.65,247],[2.1,247],[2.55,250],[2.7,242],[3.95,250],[4.85,251],[8.25,252],[0.35,255],[2.2,257],[2.5,268],[2.8,267],[3.15,264],[6.2,264],[1.35,276],[1.55,272],[1.75,279],[0.3,279],[2.7,284],[0.4,293],[0.4,299],[1.35,302],[6.3,312],[1.65,316],[1.65,318],[6.3,320],[12.5,337],[2.2,355],[0.45,347],[0.38,365],[0.3,388],[0.2,402],[0.35,421],[10.55,417]];

const SVGNS = 'http://www.w3.org/2000/svg';
function make(parent, tag, attrs){
  const el = document.createElementNS(SVGNS, tag);
  for (const k in attrs) el.setAttribute(k, attrs[k]);
  parent.appendChild(el);
  return el;
}

function drawPanel(key, box, xLabelY, yLabelX, xTicks, points, fit){
  const host = document.getElementById('marks-' + key);
  const yMax = yTickLabels[yTickLabels.length - 1];
  const xMax = xTicks[xTicks.length - 1];
  const sx = v => box.left + (v / xMax) * (box.right - box.left);
  const sy = v => box.bottom - (v / yMax) * (box.bottom - box.top);

  yTickLabels.slice(1, -1).forEach(v => {
    const g = make(host, 'line', {x1:box.left, x2:box.right, y1:sy(v), y2:sy(v), stroke:'#7f7b7b', 'stroke-width':4.5});
    
    
  });
  xTicks.slice(1, -1).forEach(v => {
    const g = make(host, 'line', {x1:sx(v), x2:sx(v), y1:box.top, y2:box.bottom, stroke:'#7f7b7b', 'stroke-width':4.5});
    
    
  });

  const frame = make(host, 'rect', {x:box.left, y:box.top, width:box.right-box.left, height:box.bottom-box.top, fill:'none', stroke:'#000', 'stroke-width':12, 'stroke-linejoin':'round'});
  
  

  for (let v = 0; v <= yMax; v += yMax / 45) {
    const major = Math.round(v) % 50 === 0;
    const t = make(host, 'line', {x1:box.left, x2:box.left + (major ? 13 : 10), y1:sy(v), y2:sy(v), stroke:'#000', 'stroke-width':3.5});
    
    
  }
  const xStep = (xTicks[1] - xTicks[0]) / 5;
  for (let i = 0; i * xStep <= xMax; i++) {
    const t = make(host, 'line', {x1:sx(i * xStep), x2:sx(i * xStep), y1:box.bottom, y2:box.bottom - (i % 5 === 0 ? 13 : 10), stroke:'#000', 'stroke-width':3.5});
    
    
  }

  yTickLabels.forEach(v => {
    const t = make(host, 'text', {x:yLabelX, y:sy(v) + 14.5, 'text-anchor':'end', 'font-size':41});
    t.textContent = String(v);
    
    
  });
  xTicks.forEach(v => {
    const t = make(host, 'text', {x:sx(v), y:xLabelY + 14.5, 'text-anchor':'middle', 'font-size':41});
    t.textContent = String(v);
    
    
  });

  const lineIndex = Math.floor(points.length * 0.66);
  const drawFit = () => {
    const l = make(host, 'line', {x1:sx(fit.from), y1:sy(fit.slope * fit.from + fit.intercept), x2:sx(fit.to), y2:sy(fit.slope * fit.to + fit.intercept), stroke:'#000', 'stroke-width':8.5});
    
    
  };
  points.forEach((p, i) => {
    if (i === lineIndex) drawFit();
    const c = make(host, 'circle', {cx:sx(p[0]), cy:sy(p[1]), r:12.8, fill:'#fff', stroke:'#000', 'stroke-width':4.8});
    
    
  });
}

drawPanel('a', {left:206.5, right:1032.5, top:146.5, bottom:983}, 1033, 170, xTicksA, pointsA, fitA);
drawPanel('b', {left:1305.5, right:2130, top:145.5, bottom:972}, 1022, 1268, xTicksB, pointsB, fitB);
drawPanel('c', {left:2400.5, right:3187, top:144.5, bottom:964.5}, 1015, 2363, xTicksC, pointsC, fitC);
drawPanel('d', {left:206.5, right:1030, top:1286.5, bottom:2107}, 2158, 170, xTicksD, pointsD, fitD);
drawPanel('e', {left:1302.5, right:2113, top:1282, bottom:2107}, 2156, 1265, xTicksE, pointsE, fitE);
drawPanel('f', {left:2404.5, right:3192, top:1274, bottom:2104}, 2155, 2367, xTicksF, pointsF, fitF);
</script>
</body>
</html>
